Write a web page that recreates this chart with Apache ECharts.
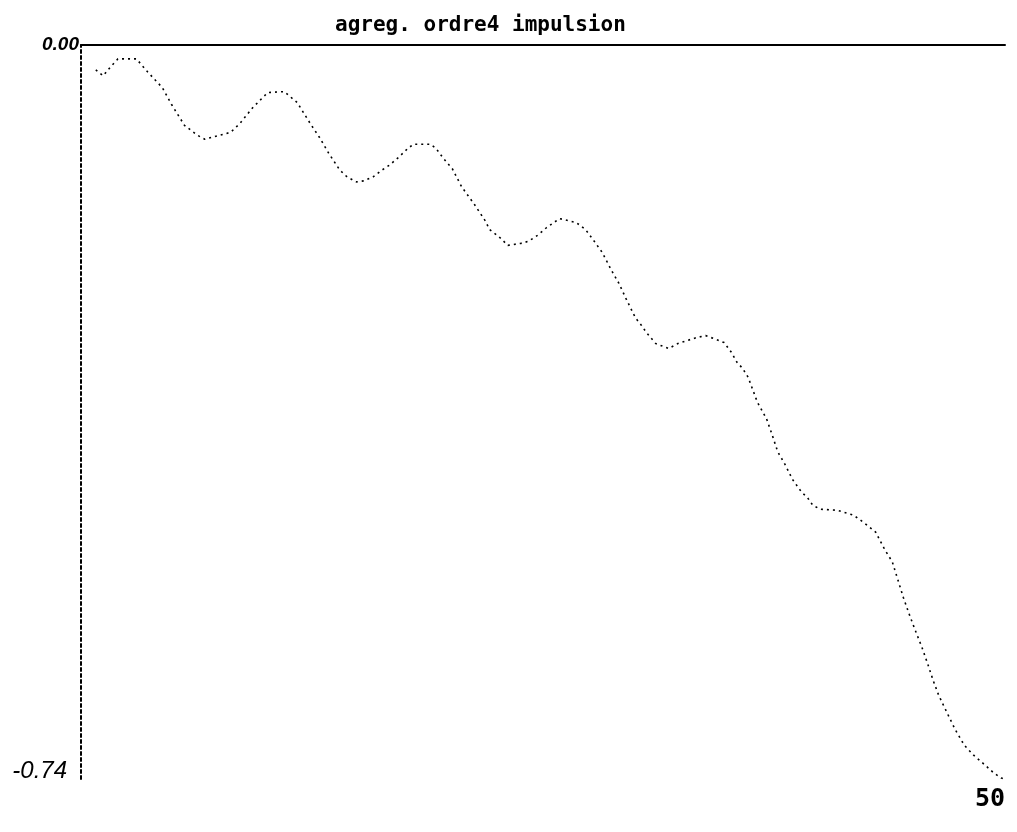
<!DOCTYPE html>
<html>
<head>
<meta charset="utf-8">
<script src="https://cdn.jsdelivr.net/npm/echarts@6/dist/echarts.min.js"></script>
<style>html,body{margin:0;padding:0;background:#fff}#c{width:1017px;height:832px}</style>
</head>
<body>
<div id="c"></div>
<script>
const titleText = 'agreg. ordre4 impulsion';
const xMin = 0, xMax = 50;
const yMin = -0.74, yMax = 0;
const yTickLabels = ['-0.74', '0.00'];
const xTickLabels = ['', '50'];

const xs = [0.8, 1.2, 1.6, 2.0, 3.0, 3.6, 4.4, 4.9, 5.6, 6.3, 6.7, 7.5, 8.1, 8.6, 9.3, 10.1, 11.0, 11.7,
  12.4, 12.9, 13.4, 14.0, 14.4, 14.9, 15.3, 15.8, 16.3, 16.7, 17.2, 17.7, 18.0, 18.9, 19.2, 19.6, 20.1, 20.6,
  21.3, 21.9, 22.1, 22.6, 23.1, 23.8, 24.2, 24.7, 25.2, 25.9, 26.8, 27.3, 27.7, 28.2, 28.7, 29.1, 29.5,
  30.0, 30.3, 30.6, 31.1, 31.8, 32.3, 32.8, 33.3, 33.8, 34.4, 34.8, 35.2, 35.5, 35.8, 36.1, 36.3, 36.6,
  37.1, 37.4, 37.7, 38.1, 38.5, 39.0, 39.3, 39.6, 40.0, 40.9, 41.8, 42.4, 43.0, 43.5, 43.9, 44.2, 44.5,
  44.8, 45.1, 45.5, 45.8, 46.1, 46.4, 46.6, 47.3, 47.8, 48.3, 48.8, 49.4, 49.8, 50.0];
const ys = [-0.025, -0.031, -0.022, -0.014, -0.014, -0.027, -0.043, -0.060, -0.081, -0.091, -0.095, -0.091, -0.088, -0.079, -0.063, -0.048, -0.047, -0.058,
  -0.079, -0.093, -0.109, -0.126, -0.133, -0.138, -0.137, -0.133, -0.126, -0.121, -0.113, -0.104, -0.100, -0.100, -0.104, -0.114, -0.125, -0.143,
  -0.161, -0.178, -0.186, -0.193, -0.202, -0.200, -0.198, -0.192, -0.184, -0.175, -0.179, -0.186, -0.196, -0.209, -0.227, -0.240, -0.256,
  -0.275, -0.282, -0.290, -0.301, -0.306, -0.301, -0.298, -0.295, -0.293, -0.297, -0.300, -0.310, -0.320, -0.326, -0.335, -0.345, -0.360,
  -0.377, -0.393, -0.410, -0.423, -0.438, -0.451, -0.456, -0.464, -0.468, -0.469, -0.474, -0.482, -0.491, -0.509, -0.521, -0.539, -0.557,
  -0.573, -0.588, -0.607, -0.623, -0.640, -0.655, -0.663, -0.690, -0.706, -0.716, -0.724, -0.734, -0.739, -0.740];

const data = xs.map((x, i) => [x, ys[i]]);

const chart = echarts.init(document.getElementById('c'), null, {renderer: 'canvas'});
chart.setOption({
  backgroundColor: '#ffffff',
  animation: false,
  title: {
    text: titleText,
    left: 330, top: 10,
    textStyle: {fontFamily: 'DejaVu Sans Mono', fontSize: 21, fontWeight: 'bold', color: '#000'}
  },
  grid: {left: 81, right: 12, top: 45, bottom: 53, containLabel: false},
  xAxis: [
    {
      type: 'value', position: 'top', min: xMin, max: xMax, interval: 50,
      axisLine: {show: true, onZero: false, lineStyle: {color: '#000', width: 2}},
      axisTick: {show: false}, axisLabel: {show: false}, splitLine: {show: false}
    },
    {
      type: 'value', position: 'bottom', min: xMin, max: xMax, interval: 50,
      axisLine: {show: false}, axisTick: {show: false}, splitLine: {show: false},
      axisLabel: {
        show: true, margin: 8, align: 'right',
        fontFamily: 'DejaVu Sans Mono', fontSize: 25, fontWeight: 'bold', color: '#000',
        formatter: v => (v === xMax ? xTickLabels[1] : xTickLabels[0])
      }
    }
  ],
  yAxis: {
    type: 'value', min: yMin, max: yMax, interval: 0.74,
    axisLine: {show: true, onZero: false, lineStyle: {color: '#000', width: 2, type: [3, 3]}},
    axisTick: {show: false}, splitLine: {show: false},
    axisLabel: {
      show: true, margin: 2, color: '#000',
      formatter: v => (Math.abs(v) < 1e-9 ? '{a|' + yTickLabels[1] + '}' : '{b|' + yTickLabels[0] + '}'),
      rich: {
        a: {fontFamily: 'Liberation Sans', fontStyle: 'italic', fontWeight: 'bold', fontSize: 19, color: '#000'},
        b: {fontFamily: 'Liberation Sans', fontStyle: 'italic', fontSize: 24, color: '#000', padding: [0, 12, 16, 0]}
      }
    }
  },
  series: [{
    type: 'line', xAxisIndex: 1, data: data,
    showSymbol: false, smooth: false,
    lineStyle: {color: '#000', width: 1.6, type: [2, 4]}
  }]
});
</script>
</body>
</html>
